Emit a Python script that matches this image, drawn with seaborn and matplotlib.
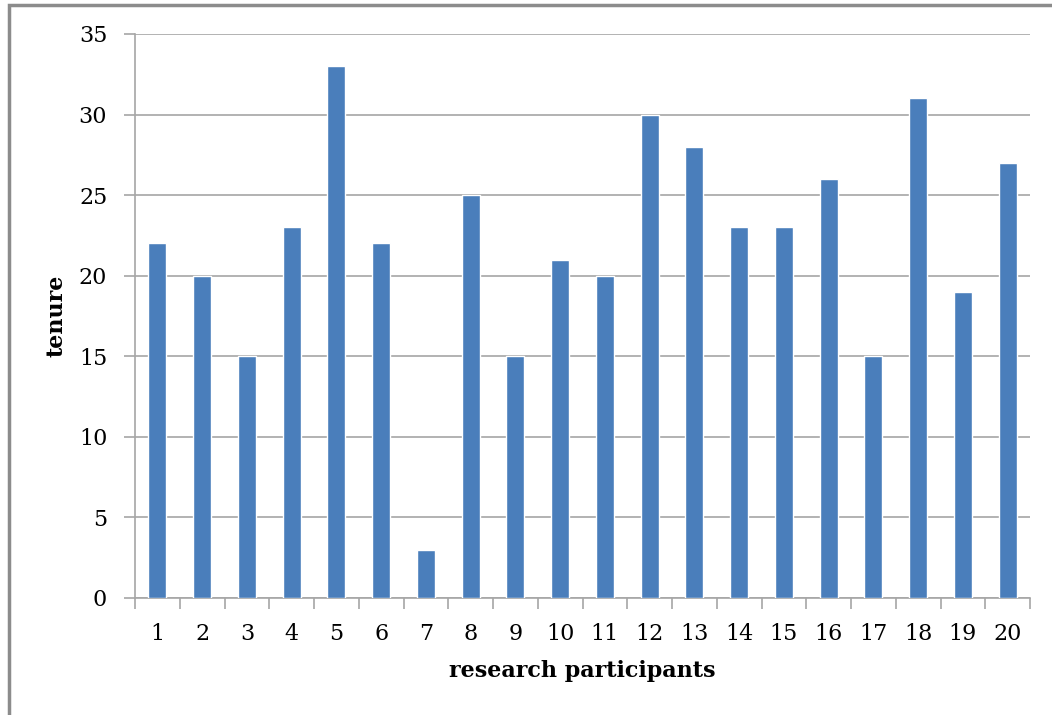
import matplotlib
matplotlib.use("Agg")
import matplotlib.pyplot as plt
import seaborn as sns
import pandas as pd
from matplotlib.patches import Rectangle

# data
participants = [str(i) for i in range(1, 21)]
tenure = [22, 20, 15, 23, 33, 22, 3, 25, 15, 21, 20, 30, 28, 23, 23, 26, 15, 31, 19, 27]

df = pd.DataFrame({"participant": participants, "tenure": tenure})

sns.set_theme(style="white")
plt.rcParams['font.family'] = ['DejaVu Serif', 'Liberation Serif']
plt.rcParams['text.color'] = 'black'
plt.rcParams['axes.labelcolor'] = 'black'
plt.rcParams['xtick.labelcolor'] = 'black'
plt.rcParams['ytick.labelcolor'] = 'black'

W, H = 1052, 715
fig = plt.figure(figsize=(W / 100, H / 100), dpi=100)
ax = fig.add_axes([135 / W, 1 - 598 / H, (1030 - 135) / W, (598 - 34) / H])

sns.barplot(data=df, x="participant", y="tenure", color="#4a7ebb",
            width=0.4, saturation=1, ax=ax, zorder=3)

ax.set_ylim(0, 35)
ax.set_yticks(range(0, 36, 5))
ax.set_xlim(-0.5, 19.5)
ax.yaxis.grid(True, color="#a6a6a6", linewidth=1.2, zorder=0)

for s in ["top", "right"]:
    ax.spines[s].set_visible(False)
for s in ["left", "bottom"]:
    ax.spines[s].set_color("#a6a6a6")
    ax.spines[s].set_linewidth(1.2)

# y ticks outward, x ticks at category boundaries
ax.tick_params(axis="y", which="major", direction="out", length=8, width=1.2,
               color="#a6a6a6", left=True, labelsize=16, pad=12)
ax.set_xticks(range(20))
ax.set_xticklabels(participants)
ax.tick_params(axis="x", which="major", length=0, labelsize=16, pad=18)
ax.set_xticks([i - 0.5 for i in range(21)], minor=True)
ax.tick_params(axis="x", which="minor", direction="out", length=8, width=1.2,
               color="#a6a6a6", bottom=True)

ax.set_xlabel("research participants", fontsize=16, fontweight="bold", labelpad=11)
ax.set_ylabel("tenure", fontsize=16, fontweight="bold", labelpad=8)

# chart frame
fig.patches.append(Rectangle((9 / W, -0.05), 1.2, 1 - 5 / H + 0.05,
                             transform=fig.transFigure, fill=False,
                             edgecolor="#8c8c8c", linewidth=2.5))

fig.savefig("out.png", dpi=100)
